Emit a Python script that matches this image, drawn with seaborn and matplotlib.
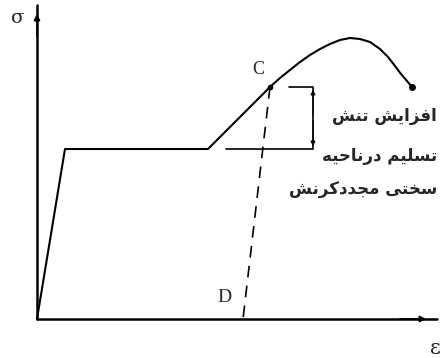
import matplotlib
matplotlib.use("Agg")
import matplotlib.pyplot as plt
import seaborn as sns
import pandas as pd

# stress-strain curve (arbitrary units)
strain = [0, 28, 171, 233, 243, 253, 263, 273, 283, 293, 303, 313,
          323, 333, 343, 351, 358, 364, 370, 375]
stress = [0, 170, 170, 232, 241, 249, 257, 264, 270, 275, 279, 281,
          280, 277, 270, 262, 253, 245, 238, 232]

# unloading from C down to D
unload_strain = [233, 206]
unload_stress = [232, 0]

# bracket showing the rise of yield stress
bracket_strain = [252, 276, 276, 189]
bracket_stress = [232, 232, 170, 170]

labels_fa = ["افزایش تنش", "تسلیم درناحیه", "سختی مجددکرنش"]

# contextual forms: isolated, final, initial, medial
FORMS = {
    "ا": ("\uFE8D", "\uFE8E", None, None),
    "ف": ("\uFED1", "\uFED2", "\uFED3", "\uFED4"),
    "ز": ("\uFEAF", "\uFEB0", None, None),
    "ی": ("\uFEEF", "\uFEF0", "\uFEF3", "\uFEF4"),
    "ش": ("\uFEB5", "\uFEB6", "\uFEB7", "\uFEB8"),
    "ت": ("\uFE95", "\uFE96", "\uFE97", "\uFE98"),
    "ن": ("\uFEE5", "\uFEE6", "\uFEE7", "\uFEE8"),
    "س": ("\uFEB1", "\uFEB2", "\uFEB3", "\uFEB4"),
    "ل": ("\uFEDD", "\uFEDE", "\uFEDF", "\uFEE0"),
    "م": ("\uFEE1", "\uFEE2", "\uFEE3", "\uFEE4"),
    "د": ("\uFEA9", "\uFEAA", None, None),
    "ر": ("\uFEAD", "\uFEAE", None, None),
    "ح": ("\uFEA1", "\uFEA2", "\uFEA3", "\uFEA4"),
    "ه": ("\uFEE9", "\uFEEA", "\uFEEB", "\uFEEC"),
    "خ": ("\uFEA5", "\uFEA6", "\uFEA7", "\uFEA8"),
    "ج": ("\uFE9D", "\uFE9E", "\uFE9F", "\uFEA0"),
    "ک": ("\uFED9", "\uFEDA", "\uFEDB", "\uFEDC"),
}


def shape_fa(text):
    """Pick joined letter forms and reverse for left-to-right drawing."""
    out = []
    for i, ch in enumerate(text):
        if ch not in FORMS:
            out.append(ch)
            continue
        prev = text[i - 1] if i > 0 else None
        nxt = text[i + 1] if i + 1 < len(text) else None
        iso, fin, ini, med = FORMS[ch]
        jp = prev in FORMS and FORMS[prev][2] is not None
        jn = ini is not None and nxt in FORMS
        if jp and jn:
            out.append(med)
        elif jp:
            out.append(fin)
        elif jn:
            out.append(ini)
        else:
            out.append(iso)
    return "".join(reversed(out))


sns.set_style("white")
fig = plt.figure(figsize=(4.41, 3.58), dpi=100)
ax = fig.add_axes([0, 0, 1, 1])

curve = pd.DataFrame({"strain": strain, "stress": stress})
sns.lineplot(data=curve, x="strain", y="stress", sort=False, estimator=None,
             color="black", lw=1.5, ax=ax)
ax.plot(strain[-1], stress[-1], "o", color="black", ms=4)
ax.plot(strain[3], stress[3], "o", color="black", ms=3)

sns.lineplot(x=unload_strain, y=unload_stress, sort=False, estimator=None,
             color="black", lw=1.2, ax=ax)
ax.lines[-1].set_dashes([7, 5])

sns.lineplot(x=bracket_strain, y=bracket_stress, sort=False, estimator=None,
             color="black", lw=1.2, ax=ax)
ax.annotate("", xy=(276, 232), xytext=(276, 201),
            arrowprops=dict(arrowstyle="-|>", color="black", lw=0.8, mutation_scale=7))
ax.annotate("", xy=(276, 170), xytext=(276, 201),
            arrowprops=dict(arrowstyle="-|>", color="black", lw=0.8, mutation_scale=7))

# axes with arrows
ax.plot([0, 0], [0, 314], color="black", lw=1.8)
ax.plot([0, 400], [0, 0], color="black", lw=1.8)
ax.annotate("", xy=(0, 308), xytext=(0, 280),
            arrowprops=dict(arrowstyle="-|>", color="black", lw=1.2, mutation_scale=9))
ax.annotate("", xy=(392, 0), xytext=(360, 0),
            arrowprops=dict(arrowstyle="-|>", color="black", lw=1.2, mutation_scale=9))

ax.text(-19, 301, "σ", fontsize=14, family="DejaVu Serif", ha="center", va="center")
ax.text(398, -29, "ε", fontsize=15, family="DejaVu Serif", ha="center", va="center")
ax.text(221, 249, "C", fontsize=13, family="Liberation Serif", ha="center", va="center")
ax.text(187, 21, "D", fontsize=14, family="Liberation Serif", ha="center", va="center")

for y, s in zip([203, 163, 129], labels_fa):
    ax.text(400, y, shape_fa(s), fontsize=12, family="DejaVu Sans", weight="bold",
            ha="right", va="center")

ax.set_xlim(-37, 404)
ax.set_ylim(-39, 319)
ax.axis("off")

fig.savefig("out.png", dpi=100, facecolor="white")
